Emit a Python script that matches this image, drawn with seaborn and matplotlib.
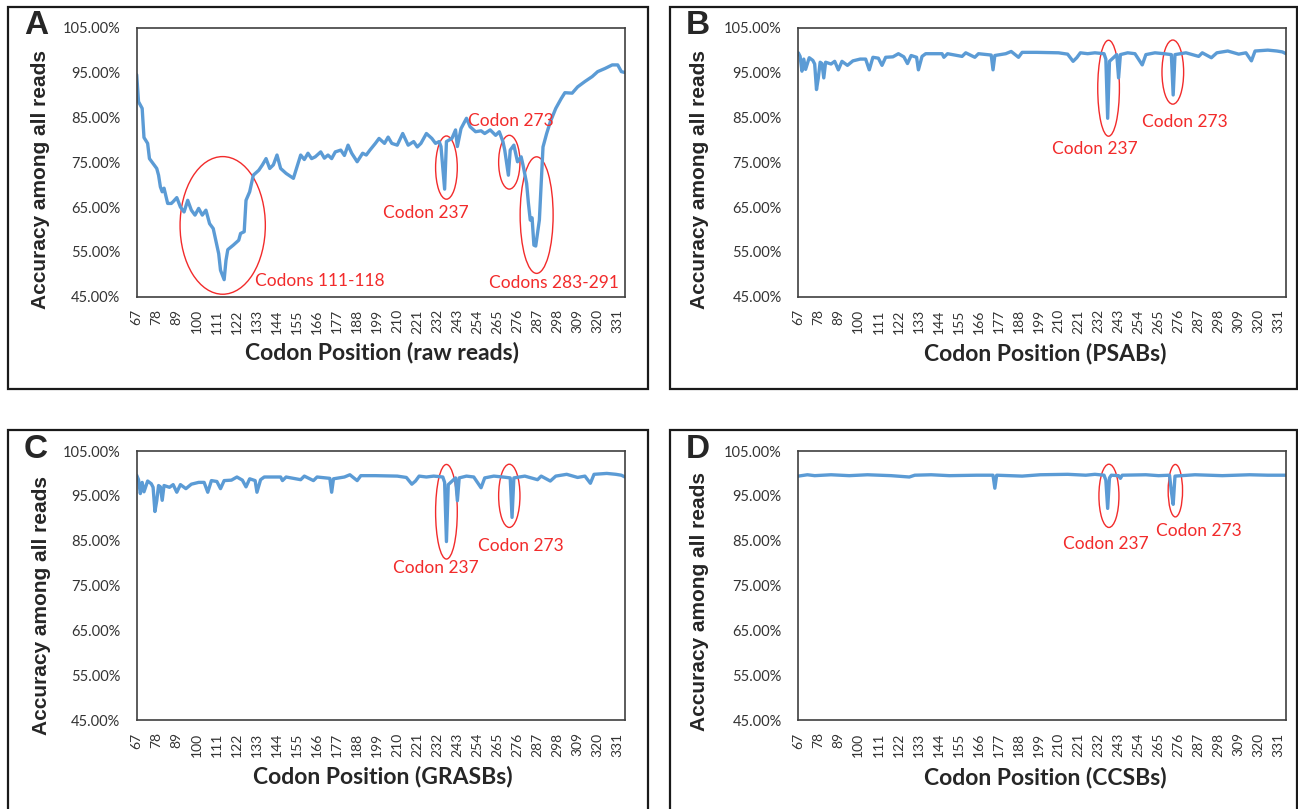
import numpy as np
import pandas as pd
import seaborn as sns
import matplotlib.pyplot as plt
from matplotlib.patches import Ellipse, Rectangle
from matplotlib.ticker import FuncFormatter


# accuracy (%) at codon positions
raw_codon = [67, 68, 70, 71, 73, 74, 76, 78, 79, 80, 81, 82, 84, 86, 87, 89, 91, 93, 95, 97,
             99, 101, 103, 105, 107, 109, 112, 113, 115, 116, 117, 120, 123, 124, 126, 127, 129,
             131, 134, 136, 138, 140, 142, 144, 146, 149, 153, 155, 157, 159, 161, 163, 165, 168,
             170, 172, 174, 176, 179, 181, 183, 185, 188, 191, 193, 195, 198, 200, 203, 205, 207,
             210, 213, 216, 219, 221, 223, 226, 229, 231, 233, 234, 236, 237, 240, 242, 243, 245,
             248, 250, 253, 256, 258, 261, 264, 266, 268, 269, 271, 272, 274, 276, 278, 279, 281,
             282, 283, 284, 285, 286, 288, 289, 290, 292, 294, 297, 300, 302, 306, 309, 313, 317,
             320, 324, 328, 331, 333, 335]
raw_acc = [94.5, 88.5, 87.0, 80.5, 79.2, 75.8, 74.7, 73.6, 72.1, 69.5, 68.4, 69.2, 65.8, 65.8,
           66.2, 67.1, 65.0, 63.9, 66.5, 64.3, 63.2, 64.7, 63.2, 64.3, 61.3, 60.2, 54.6, 50.9,
           48.8, 53.1, 55.5, 56.5, 57.6, 59.1, 59.5, 66.5, 68.4, 72.1, 73.2, 74.4, 75.8, 73.6,
           74.4, 76.6, 73.6, 72.5, 71.4, 74.0, 76.6, 75.6, 77.0, 75.8, 76.2, 77.3, 75.9, 76.6,
           75.8, 77.3, 77.7, 76.5, 78.8, 77.0, 75.1, 77.0, 76.6, 77.7, 79.2, 80.3, 79.2, 80.6,
           79.2, 78.8, 81.4, 78.8, 79.6, 78.4, 79.2, 81.4, 80.3, 79.2, 79.6, 78.5, 69.0, 79.6,
           80.3, 82.2, 78.5, 82.5, 84.8, 82.9, 81.8, 82.0, 81.4, 82.2, 81.0, 81.8, 79.6, 77.7,
           72.1, 77.7, 78.8, 75.1, 76.2, 74.4, 70.3, 65.8, 62.1, 62.6, 56.5, 56.3, 62.1, 70.3,
           78.4, 81.4, 84.0, 87.0, 89.2, 90.5, 90.4, 91.8, 93.0, 94.1, 95.2, 95.9, 96.7, 96.7,
           95.2, 95.0]

psab_codon = [67, 68, 69, 70, 71, 73, 75, 76, 77, 78, 79, 80, 81, 82, 85, 87, 89, 91, 94, 97,
              101, 104, 106, 108, 111, 113, 115, 119, 122, 125, 127, 129, 132, 133, 135, 137,
              146, 147, 149, 157, 159, 164, 166, 173, 174, 175, 181, 184, 188, 190, 198, 210,
              215, 218, 220, 222, 226, 230, 235, 236, 237, 238, 242, 243, 244, 248, 252, 256,
              258, 263, 268, 272, 273, 274, 280, 287, 289, 294, 297, 303, 309, 313, 316, 318,
              325, 330, 333, 335]
psab_acc = [99.4, 98.6, 95.3, 98.0, 95.7, 98.3, 97.7, 96.9, 91.2, 93.8, 97.3, 97.0, 93.8, 97.3,
            96.9, 97.5, 95.6, 97.5, 96.6, 97.6, 98.0, 98.0, 95.6, 98.4, 98.2, 96.6, 98.4, 98.5,
            99.2, 98.5, 97.0, 98.8, 98.4, 95.6, 98.6, 99.2, 99.2, 98.4, 99.2, 98.6, 99.4, 98.4,
            99.2, 98.9, 95.6, 98.8, 99.2, 99.7, 98.4, 99.5, 99.5, 99.4, 99.1, 97.5, 98.3, 99.4,
            99.2, 99.4, 99.2, 98.0, 84.8, 97.5, 99.0, 93.8, 99.0, 99.4, 99.2, 96.7, 99.0, 99.4,
            99.2, 99.0, 90.0, 99.0, 99.4, 98.6, 99.4, 98.3, 99.4, 99.8, 99.1, 99.4, 97.6, 99.8,
            100.0, 99.8, 99.6, 99.2]

grasb_codon = [67, 68, 69, 70, 71, 73, 75, 76, 77, 78, 79, 80, 81, 82, 85, 87, 89, 91, 94, 97,
               101, 104, 106, 108, 111, 113, 115, 119, 122, 125, 127, 129, 132, 133, 135, 137,
               146, 147, 149, 157, 159, 164, 166, 173, 174, 175, 181, 184, 188, 190, 198, 210,
               215, 218, 220, 222, 226, 230, 235, 236, 237, 238, 242, 243, 244, 248, 252, 256,
               258, 263, 268, 272, 273, 274, 280, 287, 289, 294, 297, 303, 309, 313, 316, 318,
               325, 330, 333, 335]
grasb_acc = [99.6, 98.6, 95.5, 98.0, 95.9, 98.3, 97.7, 96.9, 91.5, 93.9, 97.3, 97.0, 94.0, 97.3,
             96.9, 97.5, 95.8, 97.5, 96.6, 97.6, 98.0, 98.0, 95.8, 98.4, 98.2, 96.6, 98.4, 98.5,
             99.2, 98.5, 97.0, 98.8, 98.4, 95.8, 98.6, 99.2, 99.2, 98.4, 99.2, 98.6, 99.4, 98.4,
             99.2, 98.9, 95.8, 98.8, 99.2, 99.7, 98.4, 99.5, 99.5, 99.4, 99.1, 97.6, 98.3, 99.4,
             99.2, 99.4, 99.2, 98.0, 84.8, 97.5, 99.0, 93.9, 99.0, 99.4, 99.2, 96.8, 99.0, 99.4,
             99.2, 99.0, 90.2, 99.0, 99.4, 98.6, 99.4, 98.3, 99.4, 99.8, 99.1, 99.4, 97.8, 99.8,
             100.0, 99.8, 99.6, 99.2]

ccsb_codon = [67, 72, 76, 85, 95, 105, 118, 128, 131, 140, 150, 165, 174, 175, 176, 190, 200,
              215, 225, 230, 235, 236, 237, 238, 239, 243, 244, 245, 258, 265, 271, 272, 273,
              274, 285, 300, 315, 325, 335]
ccsb_acc = [99.4, 99.7, 99.5, 99.7, 99.5, 99.7, 99.5, 99.2, 99.6, 99.7, 99.5, 99.6, 99.6, 96.7,
            99.6, 99.4, 99.7, 99.8, 99.6, 99.8, 99.6, 98.5, 92.2, 99.0, 99.6, 99.5, 98.9, 99.6,
            99.7, 99.5, 99.6, 96.0, 93.1, 99.4, 99.7, 99.5, 99.7, 99.6, 99.6]

panel_letters = ["A", "B", "C", "D"]
x_labels = ["Codon Position (raw reads)", "Codon Position (PSABs)",
            "Codon Position (GRASBs)", "Codon Position (CCSBs)"]
codon_ticks = list(range(67, 332, 11))
acc_ticks = [45, 55, 65, 75, 85, 95, 105]

# red call-outs: (centre codon, centre acc, width, height) and (text, codon, acc)
ellipses = [
    [(114.2, 60.9, 46.8, 30.7), (237, 73.8, 11.9, 14.1), (271.5, 75.0, 11.7, 12.0),
     (286.5, 63.2, 18.1, 26.0)],
    [(237.5, 91.5, 11.9, 21.4), (272.8, 95.1, 11.9, 14.3)],
    [(237, 91.45, 11.9, 21.1), (271.5, 95.0, 11.7, 14.1)],
    [(237.7, 95.0, 11.0, 14.1), (274.2, 96.15, 7.9, 11.7)],
]
notes = [
    [("Codons 111-118", 131.9, 48.5, "left"), ("Codon 237", 225.8, 63.7, "center"),
     ("Codon 273", 272.4, 84.2, "center"), ("Codons 283-291", 295.9, 48.1, "center")],
    [("Codon 237", 230.0, 77.9, "center"), ("Codon 273", 279.3, 84.0, "center")],
    [("Codon 237", 231.3, 78.9, "center"), ("Codon 273", 277.8, 83.9, "center")],
    [("Codon 237", 236.2, 84.3, "center"), ("Codon 273", 286.9, 87.2, "center")],
]
# axis-title positions in axes fraction (x label, y label)
xlabel_pos = [(0.503, -0.209), (0.507, -0.213), (0.503, -0.211), (0.506, -0.213)]
ylabel_pos = [(-0.198, 0.4375), (-0.2016, 0.4375), (-0.195, 0.4245), (-0.2016, 0.44)]

series = [(raw_codon, raw_acc), (psab_codon, psab_acc),
          (grasb_codon, grasb_acc), (ccsb_codon, ccsb_acc)]

sns.set_style("white")
plt.rcParams["font.family"] = ["Lato", "DejaVu Sans"]

W, H = 1298, 809
fig = plt.figure(figsize=(W / 100, H / 100), dpi=100)

# pixel boxes: plot area (left, top, right, bottom) and outer frame
plot_boxes = [(136.7, 27.7, 625, 296.7), (798.3, 27.7, 1286, 296.7),
              (136.7, 451, 625, 720), (798.3, 451, 1286, 720)]
frames = [(8, 7, 648, 389), (670, 7, 1297, 389), (8, 430, 648, 820), (670, 430, 1297, 820)]

line_color = "#5B9BD5"
red = "#F22B2B"

for i in range(4):
    l, t, r, b = plot_boxes[i]
    ax = fig.add_axes([l / W, 1 - b / H, (r - l) / W, (b - t) / H])
    df = pd.DataFrame({"codon": series[i][0], "acc": series[i][1]})
    sns.lineplot(data=df, x="codon", y="acc", ax=ax, color=line_color,
                 linewidth=2.4, estimator=None, sort=False)
    ax.set_xlim(67, 335)
    ax.set_ylim(45, 105)
    ax.set_xticks(codon_ticks)
    ax.set_xticklabels([str(c) for c in codon_ticks], rotation=90)
    ax.set_yticks(acc_ticks)
    ax.yaxis.set_major_formatter(FuncFormatter(lambda v, p: f"{v:.2f}%"))
    ax.tick_params(axis="y", direction="out", length=4, width=1, color="#404040",
                   labelsize=10.5, labelcolor="#333333", pad=8)
    ax.tick_params(axis="x", direction="out", length=0, labelsize=10,
                   labelcolor="#333333", pad=9)
    for s in ax.spines.values():
        s.set_color("#404040")
        s.set_linewidth(1.2)
    ax.set_xlabel(x_labels[i], fontsize=16.5, fontweight="bold")
    ax.set_ylabel("Accuracy among all reads", fontsize=15, fontweight="bold",
                  family=["Liberation Sans", "DejaVu Sans"])
    ax.xaxis.set_label_coords(*xlabel_pos[i])
    ax.yaxis.set_label_coords(*ylabel_pos[i])
    ax.xaxis.label.set_va("center")
    ax.yaxis.label.set_va("center")

    for cx, cy, w, h in ellipses[i]:
        ax.add_patch(Ellipse((cx, cy), w, h, fill=False, edgecolor=red, linewidth=1.0,
                             clip_on=False))
    for txt, cx, cy, ha in notes[i]:
        ax.text(cx, cy, txt, color=red, fontsize=12.5, ha=ha, va="center")

    fl, ft, fr, fb = frames[i]
    fig.patches.append(Rectangle((fl / W, 1 - fb / H), (fr - fl) / W, (fb - ft) / H,
                                 transform=fig.transFigure, fill=False,
                                 edgecolor="#1a1a1a", linewidth=1.6))
    fig.text((fl + 16) / W, 1 - (ft + 19) / H, panel_letters[i], fontsize=24,
             fontweight="bold", family=["Liberation Sans", "DejaVu Sans"],
             ha="left", va="center")

fig.savefig("out.png", dpi=100)
